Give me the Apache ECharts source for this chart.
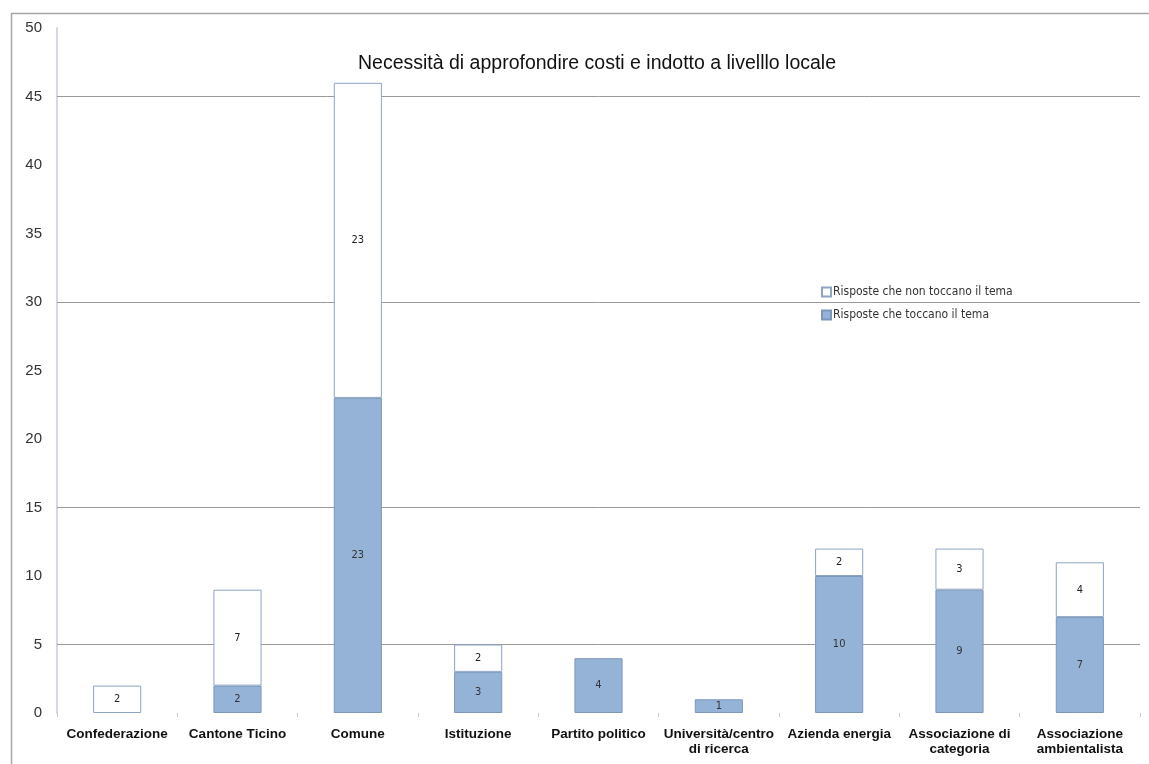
<!DOCTYPE html>
<html>
<head>
<meta charset="utf-8">
<script src="https://cdn.jsdelivr.net/npm/echarts@6/dist/echarts.min.js"></script>
<style>html,body{margin:0;padding:0;background:#fff;}#c{width:1149px;height:764px;}</style>
</head>
<body>
<div id="c"></div>
<script>
const categories = ['Confederazione', 'Cantone Ticino', 'Comune', 'Istituzione', 'Partito politico', 'Università/centro\ndi ricerca', 'Azienda energia', 'Associazione di\ncategoria', 'Associazione\nambientalista'];
const toccano = [0, 2, 23, 3, 4, 1, 10, 9, 7];
const nonToccano = [2, 7, 23, 2, 0, 0, 2, 3, 4];
const gridValues = [5, 15, 30, 45];
const titleText = 'Necessità di approfondire costi e indotto a livelllo locale';
const seriesNames = ['Risposte che toccano il tema', 'Risposte che non toccano il tema'];

const chart = echarts.init(document.getElementById('c'), null, {renderer: 'canvas'});
const labelFmt = p => (p.value ? String(p.value) : '');
const nz = arr => arr.map(v => (v === 0 ? '-' : v));
chart.setOption({
  animation: false,
  backgroundColor: '#fff',
  graphic: [{
    type: 'rect', shape: {x: 11.5, y: 13.5, width: 1200, height: 800},
    style: {fill: 'none', stroke: '#a6a6a6', lineWidth: 1.5}, silent: true
  }],
  title: {
    text: titleText, left: 592, top: 49, textAlign: 'center',
    textStyle: {fontFamily: 'Liberation Sans, Arial', fontSize: 19.5, fontWeight: 'normal', color: '#111'}
  },
  legend: {
    orient: 'vertical', left: 816, top: 281, itemGap: 11,
    itemWidth: 9, itemHeight: 9, icon: 'rect',
    data: [seriesNames[1], seriesNames[0]],
    textStyle: {fontFamily: 'DejaVu Sans Condensed, Liberation Sans', fontSize: 12, color: '#333', padding: [0, 0, 0, -3]}
  },
  grid: {left: 57, right: 9, top: 28, bottom: 51, containLabel: false},
  xAxis: {
    type: 'category', data: categories,
    axisLine: {show: false},
    axisTick: {show: true, length: 4, lineStyle: {color: '#c8c8c8'}},
    axisLabel: {
      interval: 0, margin: 14, lineHeight: 15,
      fontFamily: 'Liberation Sans, Arial', fontSize: 13.5, fontWeight: 'bold', color: '#111'
    }
  },
  yAxis: {
    type: 'value', min: 0, max: 50, interval: 5,
    axisLine: {show: true, lineStyle: {color: '#d4d8e0', width: 2}},
    axisTick: {show: false},
    splitLine: {show: false},
    axisLabel: {margin: 15, fontFamily: 'Liberation Sans, Arial', fontSize: 15, color: '#333'}
  },
  series: [{
    name: seriesNames[0], type: 'bar', stack: 's', barWidth: '40%',
    data: nz(toccano),
    itemStyle: {color: '#95b3d7', borderColor: '#7d96bb', borderWidth: 1},
    label: {show: true, position: 'inside', formatter: labelFmt, fontFamily: 'DejaVu Sans Condensed, Liberation Sans', fontSize: 11, color: '#333'},
    markLine: {
      silent: true, symbol: 'none', label: {show: false},
      lineStyle: {color: '#9a9a9a', type: 'solid', width: 1},
      data: gridValues.map(v => ({yAxis: v})),
      z: 1
    },
    z: 3
  }, {
    name: seriesNames[1], type: 'bar', stack: 's', barWidth: '40%',
    data: nz(nonToccano),
    itemStyle: {color: '#ffffff', borderColor: '#8ea4c4', borderWidth: 1},
    label: {show: true, position: 'inside', formatter: labelFmt, fontFamily: 'DejaVu Sans Condensed, Liberation Sans', fontSize: 11, color: '#222'},
    z: 3
  }]
});
</script>
</body>
</html>
